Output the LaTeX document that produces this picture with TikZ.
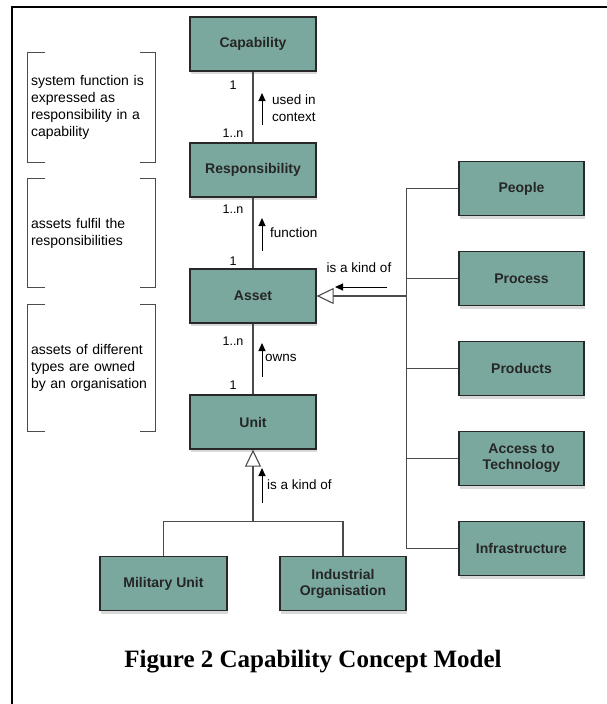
\documentclass[tikz,border=0pt]{standalone}
\usepackage{fontspec}
\setmainfont{Liberation Serif}
\setsansfont{Liberation Sans}
\usepackage{tikz}
\usetikzlibrary{positioning,arrows.meta,shadows}

\definecolor{boxfill}{RGB}{122,168,158}
\definecolor{boxline}{RGB}{40,40,40}
\definecolor{wire}{RGB}{75,75,75}

\tikzset{
  concept/.style={draw=boxline, line width=1.3pt, fill=boxfill, minimum width=126pt, minimum height=54pt,
    align=center, text=black!85, font=\sffamily\bfseries\fontsize{14}{16}\selectfont,
    drop shadow={shadow xshift=1pt, shadow yshift=-3pt, opacity=0.3}},
  note/.style={text width=121pt, inner xsep=3pt, inner ysep=0pt, align=left,
    font=\sffamily\fontsize{14}{17}\selectfont},
  bracket/.style={draw=black!70, line width=1pt},
  lbl/.style={font=\sffamily\fontsize{13.5}{17}\selectfont, align=left, inner sep=2pt},
  mult/.style={font=\sffamily\fontsize{12.5}{14}\selectfont, inner sep=1pt},
  wire/.style={draw=wire, line width=1.1pt},
  isa/.style={wire, -{Triangle[open, fill=white, length=17pt, width=16pt]}},
  dirarr/.style={draw=black, line width=1pt, -{Triangle[length=8pt, width=7pt]}}
}

\begin{document}
\begin{tikzpicture}[x=1pt, y=-1pt, node distance=126pt, on grid]
  \useasboundingbox (0,0) rectangle (607,704);
  \draw[line width=2pt] (11.5,704) -- (11.5,6.5) -- (607,6.5);

  % central column
  \node[concept] (cap) at (253,44) {Capability};
  \node[concept] (resp) [below=of cap] {Responsibility};
  \node[concept] (asset) [below=of resp] {Asset};
  \node[concept] (unit) [below=of asset] {Unit};
  \node[concept, minimum width=127pt] (mil) [below=161.5pt of unit, xshift=-89.5pt] {Military Unit};
  \node[concept] (ind) [below=161.5pt of unit, xshift=90pt] {Industrial\\Organisation};

  % kinds of asset
  \node[concept, minimum width=125pt] (people) at (521.5,188.5) {People};
  \node[concept, minimum width=125pt] (process) [below=90pt of people] {Process};
  \node[concept, minimum width=125pt] (products) [below=90pt of process] {Products};
  \node[concept, minimum width=125pt] (access) [below=90pt of products] {Access to\\Technology};
  \node[concept, minimum width=125pt] (infra) [below=90pt of access] {Infrastructure};

  % notes
  \node[note, minimum height=109pt] (noteA) at (91.5,107.5) {system function is\\expressed as\\responsibility in a\\capability};
  \node[note, minimum height=108pt] (noteB) at (91.5,233) {assets fulfil the\\responsibilities};
  \node[note, minimum height=126pt] (noteC) at (91.5,368) {assets of different\\types are owned\\by an organisation};
  \foreach \n in {noteA,noteB,noteC} {
    \draw[bracket] ([xshift=17pt]\n.north west) -- (\n.north west) -- (\n.south west) -- ([xshift=17pt]\n.south west);
    \draw[bracket] ([xshift=-15pt]\n.north east) -- (\n.north east) -- (\n.south east) -- ([xshift=-15pt]\n.south east);
  }

  % associations
  \path[wire]
    (cap) edge (resp)
    (resp) edge (asset)
    (asset) edge (unit)
    ;
  \node[mult] (m1) at (233,85) {1};
  \node[mult] (m2) at (233,133) {1..n};
  \node[mult] (m3) at (233,209) {1..n};
  \node[mult] (m4) at (233,261) {1};
  \node[mult] (m5) at (233,341) {1..n};
  \node[mult] (m6) at (233,385) {1};

  \draw[dirarr] (262,125) -- (262,93);
  \node[lbl, anchor=west] (l1) at (270,108.5) {used in\\context};
  \draw[dirarr] (262,251) -- (262,218);
  \node[lbl, anchor=west] (l2) at (268,233) {function};
  \draw[dirarr] (262,377) -- (262,343);
  \node[lbl, anchor=west] (l3) at (263,358) {owns};

  % generalisation of unit
  \coordinate[below=72pt of unit.south] (fork);
  \draw[isa] (fork) -- (unit.south);
  \draw[wire] (mil.north) |- (fork) -| (ind.north);
  \draw[dirarr] (262,503) -- (262,468);
  \node[lbl, anchor=west] (l4) at (265,485) {is a kind of};

  % generalisation of asset
  \coordinate[right=90pt of asset.east] (spine);
  \draw[isa] (spine) -- (asset.east);
  \draw[wire] (people.west) -| (spine |- infra.west) -- (infra.west);
  \foreach \b in {process,products,access}
    \draw[wire] (\b.west) -- (\b.west -| spine);
  \draw[dirarr] (387,287) -- (335,287);
  \node[lbl] (l5) at (359,268) {is a kind of};

  \node[font=\bfseries\fontsize{25}{30}\selectfont] (caption) at (313,662) {Figure 2 Capability Concept Model};
\end{tikzpicture}
\end{document}
